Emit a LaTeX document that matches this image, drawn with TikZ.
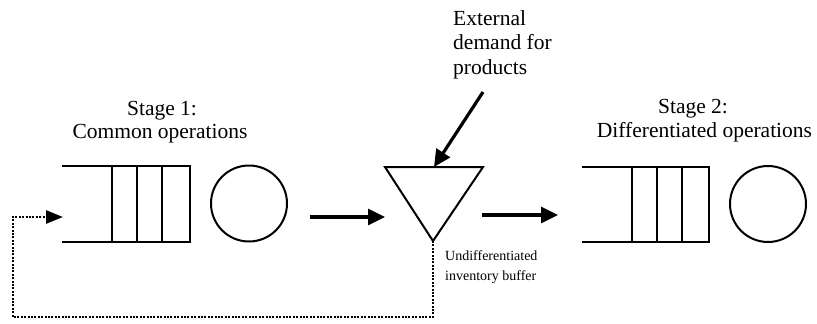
\documentclass[tikz,border=0pt]{standalone}
\usepackage{fontspec}
\setmainfont{Liberation Serif}
\usetikzlibrary{arrows.meta}
\begin{document}
\begin{tikzpicture}[x=1pt,y=-1pt,
  shapeline/.style={line width=2pt},
  flow/.style={line width=3.2pt,-{Triangle[length=17pt,width=16pt]}},
  feedback/.style={line width=2.6pt,dash pattern=on 2pt off 1.4pt,-{Triangle[length=17pt,width=13pt]}},
  bigtext/.style={font=\fontsize{21.5}{24.5}\selectfont,inner sep=0pt},
  smalltext/.style={font=\fontsize{14}{18}\selectfont,inner sep=0pt},
  server/.style={shapeline,draw,circle,minimum size=76pt,inner sep=0pt}]
\useasboundingbox (0,0) rectangle (817,324);

% Stage 1 queue
\draw[shapeline] (62,166) -- (190,166) -- (190,242) -- (62,242);
\draw[shapeline] (112,166) -- (112,242) (137,166) -- (137,242) (162,166) -- (162,242);
\node[server] (s1) at (249,203.5) {};
\coordinate (q1in) at (63,217);

% Stage 2 queue
\draw[shapeline] (582,167) -- (709,167) -- (709,242) -- (582,242);
\draw[shapeline] (632,167) -- (632,242) (657,167) -- (657,242) (682,167) -- (682,242);
\node[server] (s2) at (768,204) {};

% Buffer triangle
\coordinate (tl) at (385,167);
\coordinate (tr) at (483,167);
\coordinate (tb) at (433,241);
\draw[shapeline,line join=miter] (tl) -- (tr) -- (tb) -- cycle;
\coordinate (ttop) at (434,167);

% Flow arrows
\coordinate (a1s) at (310,217);
\coordinate (a1e) at (385,217);
\draw[flow] (a1s) -- (a1e);
\coordinate (a2s) at (482,215);
\coordinate (a2e) at (558,215);
\draw[flow] (a2s) -- (a2e);
\coordinate (dem) at (483,92);
\draw[flow] (dem) -- (ttop);

% Feedback dotted
\draw[feedback] (tb) -- (433,317) -- (13,317) -- (13,217) -- (q1in);

% Texts
\node[bigtext,anchor=base] (st1a) at (162,115) {Stage 1:};
\node[bigtext,anchor=base] (st1b) at (160,138) {Common operations};
\node[bigtext,anchor=base] (st2a) at (693,113) {Stage 2:};
\node[bigtext,anchor=base] (st2b) at (704.5,137) {Differentiated operations};
\node[bigtext,anchor=base west,align=left] (ext) at (453,74) {External\\demand for\\products};
\node[smalltext,anchor=base west] (buf1) at (445,260) {Undifferentiated};
\node[smalltext,anchor=base west] (buf2) at (445,280) {inventory buffer};
\end{tikzpicture}
\end{document}
